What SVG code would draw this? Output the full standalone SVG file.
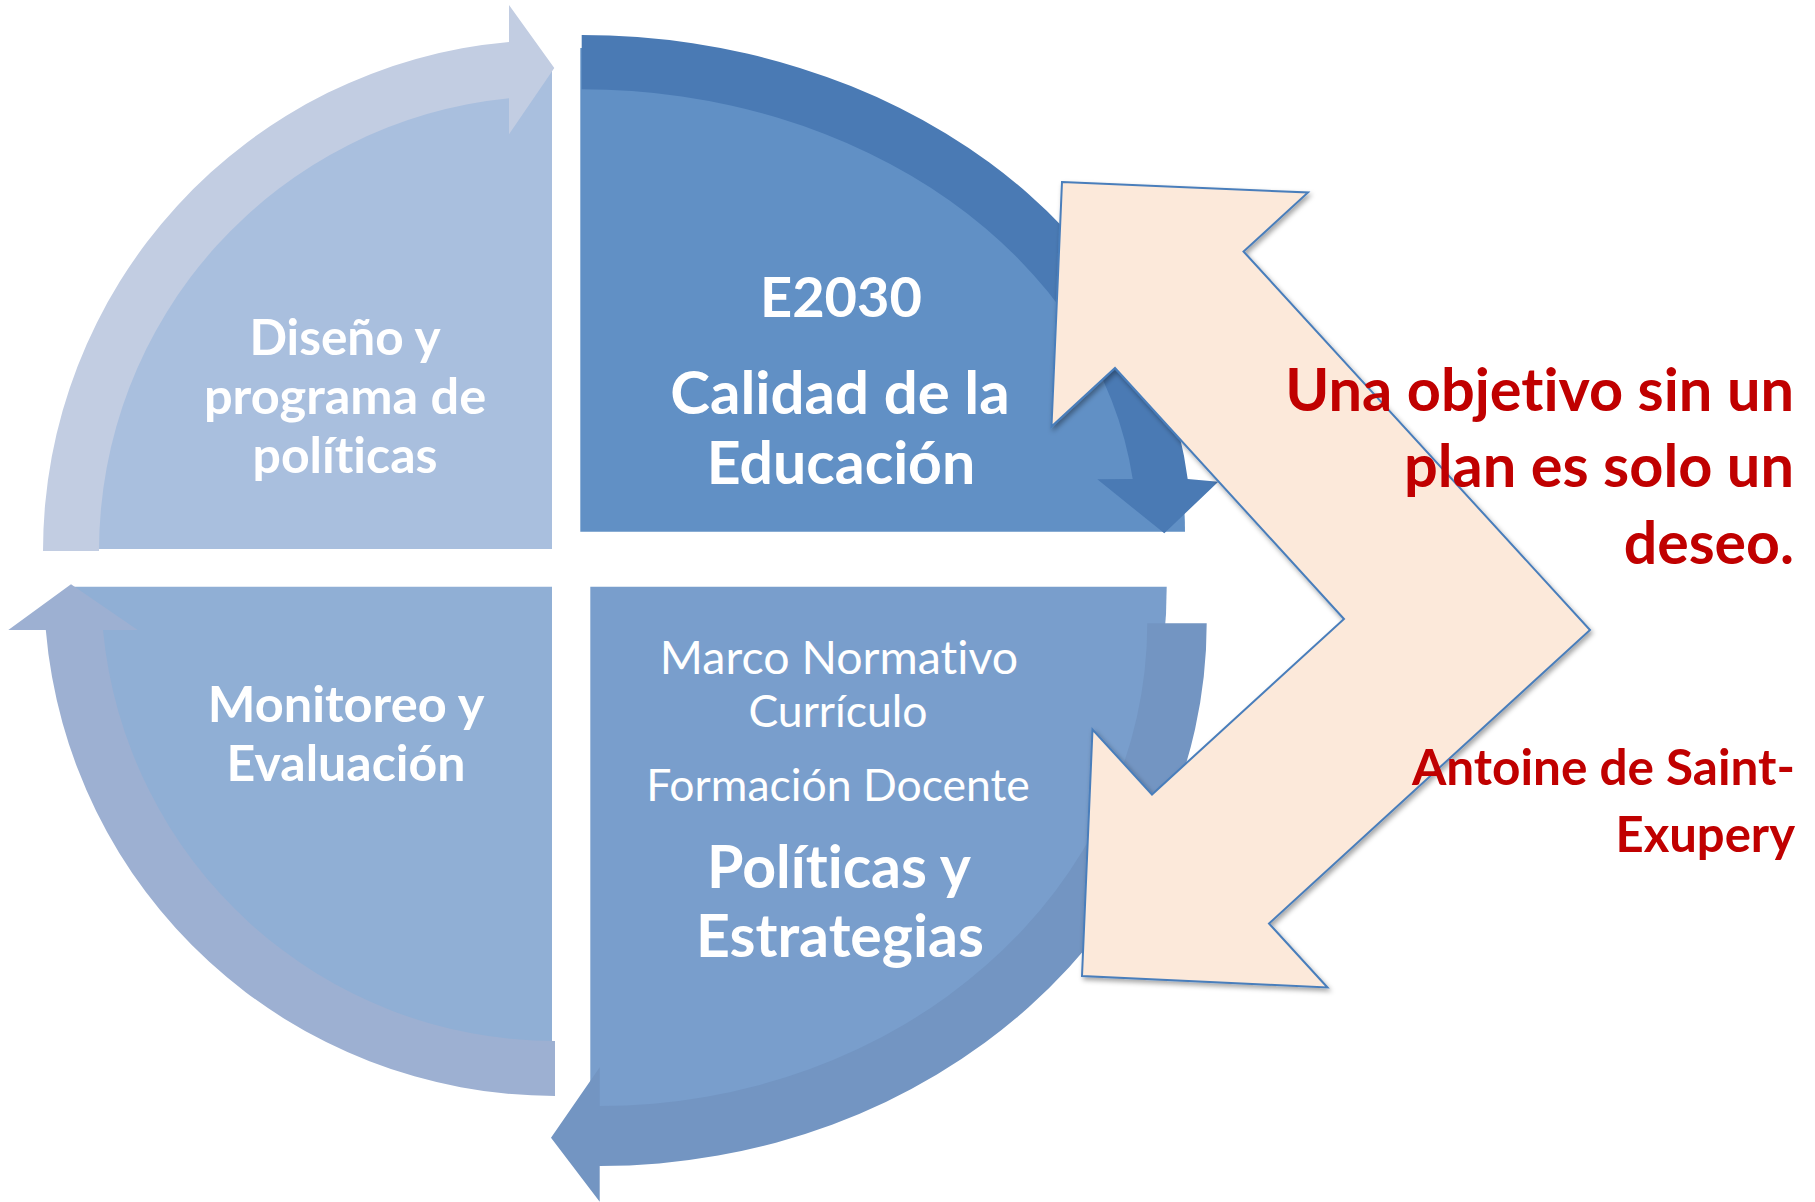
<svg xmlns="http://www.w3.org/2000/svg" width="1815" height="1202" viewBox="0 0 1815 1202">
<defs>
<style>
.lbl{font-family:Lato,"Open Sans","Liberation Sans",sans-serif;fill:#ffffff;text-anchor:middle;font-variant-ligatures:none}
.b{font-weight:bold}
.r{font-weight:normal}
.red{font-family:Lato,"Open Sans","Liberation Sans",sans-serif;font-weight:bold;fill:#C00000;text-anchor:end;font-variant-ligatures:none}
</style>
<filter id="sh" x="-10%" y="-10%" width="130%" height="130%">
<feDropShadow dx="2" dy="3" stdDeviation="2.5" flood-color="#000" flood-opacity="0.35"/>
</filter>
</defs>
<rect width="1815" height="1202" fill="#ffffff"/>

<g id="node-diseno">
<path d="M552 549 L69 549 A483 483 0 0 1 552 66 Z" fill="#A9BFDE"/>
<text class="lbl b" font-size="49.5" x="345" y="355">Diseño y</text>
<text class="lbl b" font-size="50.5" x="345" y="414">programa de</text>
<text class="lbl b" font-size="50" x="345" y="473">políticas</text>
</g>

<g id="node-calidad">
<path d="M580.3 531.7 L580.3 48 A605 484 0 0 1 1185 531.7 Z" fill="#6190C5"/>
<text class="lbl b" font-size="56" x="841" y="317">E2030</text>
<text class="lbl b" font-size="60" x="840" y="414">Calidad de la</text>
<text class="lbl b" font-size="59" x="841" y="484">Educación</text>
</g>

<g id="node-monitoreo">
<path d="M552 586.7 L552 1068 A482 482 0 0 1 70 586.7 Z" fill="#90AFD5"/>
<text class="lbl b" font-size="50.5" x="346" y="722">Monitoreo y</text>
<text class="lbl b" font-size="50" x="346" y="781">Evaluación</text>
</g>

<g id="node-politicas">
<path d="M590.3 586.7 L1166.7 586.7 A576.4 549 0 0 1 590.3 1136 Z" fill="#799ECC"/>
<text class="lbl r" font-size="46.5" x="839" y="674">Marco Normativo</text>
<text class="lbl r" font-size="44.5" x="838" y="727">Currículo</text>
<text class="lbl r" font-size="44.5" x="838" y="801">Formación Docente</text>
<text class="lbl b" font-size="59" x="839" y="888">Políticas y</text>
<text class="lbl b" font-size="59" x="840" y="957">Estrategias</text>
</g>

<g id="connectors">
<path d="M43 551 A511 511 0 0 1 509 42 L509 5 L554.3 68 L509 134.3 L509 98.2 A455 455 0 0 0 99 551 Z" fill="#C2CDE2"/>
<path d="M581.7 35 A609.5 497 0 0 1 1187.7 479 L1218.3 481.7 L1164.3 533.3 L1097.3 479.3 L1132.7 479 A555 442.7 0 0 0 581.7 89.3 Z" fill="#4A7AB4"/>
<path d="M1206.7 623.3 A607 542.7 0 0 1 599.7 1166 L599.7 1201.7 L551 1137.7 L599.7 1067.3 L599.7 1106 A547.6 482.7 0 0 0 1147.3 623.3 Z" fill="#7395C2"/>
<path d="M555 1096 A511 509 0 0 1 45.8 630 L8.3 630 L71 584.3 L137.7 630 L103 630 A454 454 0 0 0 555 1041 Z" fill="#9DB0D2"/>
</g>

<g id="node-quote-arrow">
<path d="M1062 182 L1308 192.5 L1243.5 251.5 L1590 630 L1269 923.5 L1327.5 987.5 L1082 976 L1092.5 729.5 L1152 794.5 L1344 619 L1115 368 L1051.5 426.5 Z" fill="#FCE9DA" stroke="#4A7EBB" stroke-width="2" stroke-linejoin="miter" filter="url(#sh)"/>
</g>

<g id="node-quote">
<text class="red" font-size="59.5" x="1794" y="411">Una objetivo sin un</text>
<text class="red" font-size="59.5" x="1794" y="487">plan es solo un</text>
<text class="red" font-size="59" x="1794" y="564">deseo.</text>
<text class="red" font-size="49.5" x="1795" y="785">Antoine de Saint-</text>
<text class="red" font-size="49" x="1795" y="852">Exupery</text>
</g>
</svg>
